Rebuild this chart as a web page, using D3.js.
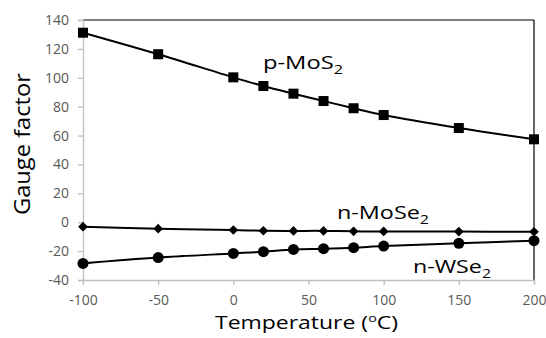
<!DOCTYPE html>
<html><head><meta charset="utf-8">
<script src="https://cdn.jsdelivr.net/npm/d3@7"></script>
<style>body{margin:0;background:#fff}svg{display:block}</style>
</head><body>
<svg id="c" width="546" height="338"></svg>
<script>
const temps = [-100, -50, 0, 20, 40, 60, 80, 100, 150, 200];
const pMoS2 = [131.2, 116.3, 100.3, 94.3, 89.0, 83.9, 78.9, 74.2, 65.2, 57.4];
const nMoSe2 = [-3.1, -4.5, -5.4, -5.9, -6.0, -6.0, -6.3, -6.4, -6.5, -6.6];
const nWSe2 = [-28.5, -24.5, -21.6, -20.4, -18.8, -18.3, -17.6, -16.5, -14.6, -12.8];
const xTicks = [-100, -50, 0, 50, 100, 150, 200];
const yTicks = [-40, -20, 0, 20, 40, 60, 80, 100, 120, 140];
const seriesLabels = [["p-MoS", "2"], ["n-MoSe", "2"], ["n-WSe", "2"]];

const svg = d3.select("#c");
const L = 83, R = 534, T = 20, B = 280;
const x = d3.scaleLinear().domain([-100, 200]).range([L, R]);
const y = d3.scaleLinear().domain([-40, 140]).range([B, T]);
const font = "'Open Sans', sans-serif";

svg.append("line").attr("x1", L).attr("x2", R).attr("y1", T).attr("y2", T).attr("stroke", "#000").attr("stroke-width", 1.2);
svg.append("line").attr("x1", R).attr("x2", R).attr("y1", T).attr("y2", B).attr("stroke", "#000").attr("stroke-width", 1.2);

const fmt = d => String(d);
const gx = svg.append("g").attr("transform", `translate(0,${B})`)
  .call(d3.axisBottom(x).tickValues(xTicks).tickSize(5).tickPadding(10).tickFormat(fmt));
const gy = svg.append("g").attr("transform", `translate(${L},0)`)
  .call(d3.axisLeft(y).tickValues(yTicks).tickSize(5).tickPadding(9).tickFormat(fmt));
[gx, gy].forEach(g => {
  g.select(".domain").attr("stroke", "#bfbfbf").attr("stroke-width", 1.3);
  g.selectAll(".tick line").attr("stroke", "#bfbfbf").attr("stroke-width", 1.3);
  g.selectAll(".tick text").attr("fill", "#595959").style("font-family", font).style("font-size", "14px");
});

const line = d3.line().x((d, i) => x(temps[i])).y(d => y(d)).curve(d3.curveCatmullRom);
[pMoS2, nMoSe2, nWSe2].forEach(s => {
  svg.append("path").datum(s).attr("d", line).attr("fill", "none").attr("stroke", "#000").attr("stroke-width", 2);
});

svg.append("g").selectAll("rect").data(pMoS2).join("rect")
  .attr("x", (d, i) => x(temps[i]) - 5).attr("y", d => y(d) - 5).attr("width", 10).attr("height", 10).attr("fill", "#000");
svg.append("g").selectAll("path").data(nMoSe2).join("path")
  .attr("d", d3.symbol().type(d3.symbolDiamond2).size(60))
  .attr("transform", (d, i) => `translate(${x(temps[i])},${y(d)})`).attr("fill", "#000");
svg.append("g").selectAll("circle").data(nWSe2).join("circle")
  .attr("cx", (d, i) => x(temps[i])).attr("cy", d => y(d)).attr("r", 5.5).attr("fill", "#000");

// place text so its horizontal extent spans [x0,x1] at given baseline
function fitted(x0, x1, base, size, build) {
  const g = svg.append("g");
  const t = g.append("text").attr("x", 0).attr("y", 0).attr("fill", "#000")
    .style("font-family", font).style("font-size", size + "px");
  build(t);
  const bb = t.node().getBBox();
  const sx = (x1 - x0) / bb.width;
  g.attr("transform", `translate(${x0 - bb.x * sx},${base}) scale(${sx},1)`);
}
function subLabel(t, main, sub) {
  t.append("tspan").text(main);
  t.append("tspan").attr("dy", 5).style("font-size", "13px").text(sub);
}
fitted(263, 343, 69, 19, t => subLabel(t, ...seriesLabels[0]));
fitted(337, 429, 219, 19, t => subLabel(t, ...seriesLabels[1]));
fitted(413, 491, 273, 19, t => subLabel(t, ...seriesLabels[2]));

fitted(215, 398, 329, 18.5, t => {
  t.append("tspan").text("Temperature (");
  t.append("tspan").attr("dy", -7).style("font-size", "11.5px").text("o");
  t.append("tspan").attr("dy", 7).text("C)");
});

// y title, rotated, spanning y 73..215
const gy2 = svg.append("g");
const yt = gy2.append("text").style("font-family", font).style("font-size", "22px").attr("fill", "#000").text("Gauge factor");
const yb = yt.node().getBBox();
const sy = 142 / yb.width;
gy2.attr("transform", `translate(30,144) rotate(-90) scale(${sy},1) translate(${-yb.x - yb.width / 2},0)`);
</script>
</body></html>
